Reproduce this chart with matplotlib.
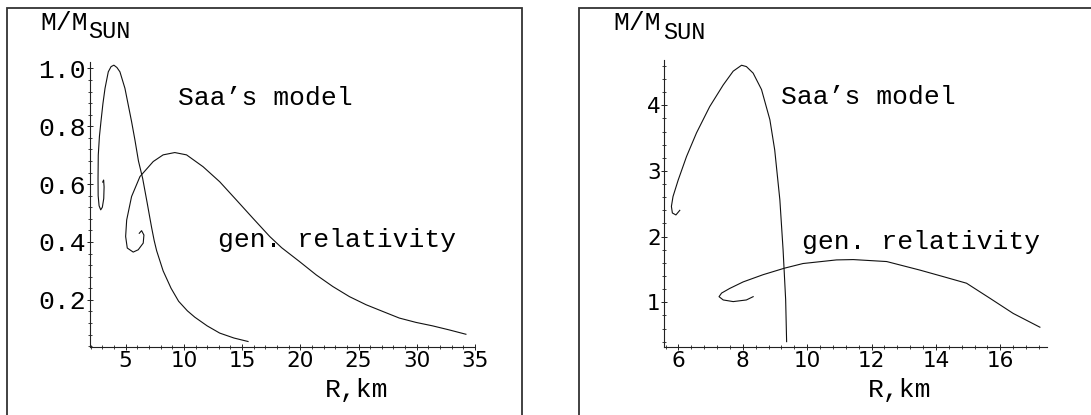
import matplotlib
matplotlib.use("Agg")
import matplotlib.pyplot as plt
from matplotlib.patches import Rectangle
from matplotlib.ticker import MultipleLocator

# left panel: M/Msun vs R (km), curves
saa_left_r = [3.03, 3.11, 3.15, 3.12, 3.0, 2.86, 2.72, 2.64, 2.63, 2.65, 2.75, 2.88, 3.05, 3.23,
              3.51, 3.75, 3.99, 4.25, 4.51, 4.94, 5.51, 5.80, 6.10, 6.46, 6.85, 7.05, 7.23,
              7.45, 7.66, 8.22, 8.90, 9.55, 10.30, 10.94, 12.0, 13.08, 14.3, 15.51]
saa_left_m = [0.607, 0.614, 0.59, 0.55, 0.52, 0.511, 0.525, 0.56, 0.62, 0.70, 0.765, 0.816, 0.878, 0.931,
              0.988, 1.006, 1.011, 1.003, 0.988, 0.931, 0.816, 0.752, 0.68, 0.62, 0.535, 0.49, 0.45,
              0.405, 0.37, 0.30, 0.24, 0.195, 0.162, 0.140, 0.11, 0.085, 0.068, 0.056]

gr_left_r = [6.17, 6.37, 6.57, 6.51, 6.08, 5.65, 5.14, 5.0, 5.09, 5.51, 6.23, 7.37, 8.22,
             9.22, 10.23, 11.65, 13.08, 14.51, 15.93, 17.37, 18.4, 19.94, 21.37, 22.79,
             24.22, 25.65, 27.07, 28.5, 29.93, 31.36, 32.79, 34.22]
gr_left_m = [0.430, 0.439, 0.424, 0.396, 0.373, 0.365, 0.379, 0.419, 0.476, 0.557, 0.626, 0.678, 0.701,
             0.709, 0.701, 0.66, 0.608, 0.545, 0.482, 0.419, 0.380, 0.332, 0.286, 0.246,
             0.211, 0.183, 0.160, 0.137, 0.122, 0.110, 0.096, 0.081]

# right panel
saa_right_r = [6.04, 5.92, 5.81, 5.78, 5.83, 5.99, 6.25, 6.56, 6.97, 7.39, 7.70, 7.96, 8.11,
               8.32, 8.58, 8.84, 8.99, 9.15, 9.25, 9.33, 9.36]
saa_right_m = [2.40, 2.33, 2.36, 2.46, 2.61, 2.86, 3.22, 3.58, 3.98, 4.31, 4.52, 4.61, 4.59,
               4.49, 4.24, 3.78, 3.32, 2.56, 1.80, 1.04, 0.40]

gr_right_r = [8.32, 8.11, 7.70, 7.39, 7.26, 7.34, 7.59, 8.01, 8.63, 9.30, 9.87, 10.91, 11.43,
              12.47, 13.5, 14.23, 14.95, 15.68, 16.40, 17.23]
gr_right_m = [1.085, 1.035, 1.01, 1.035, 1.085, 1.14, 1.21, 1.31, 1.42, 1.52, 1.59, 1.645, 1.65,
              1.62, 1.49, 1.39, 1.29, 1.06, 0.83, 0.62]

W, H = 1091, 415
fig = plt.figure(figsize=(W / 100, H / 100), dpi=100)
mono = "Liberation Mono"


def px_axes(x0, x1, y0, y1):
    return fig.add_axes([x0 / W, 1 - y1 / H, (x1 - x0) / W, (y1 - y0) / H])


def style(ax):
    for s in ["top", "right"]:
        ax.spines[s].set_visible(False)
    for s in ["left", "bottom"]:
        ax.spines[s].set_linewidth(0.8)
        ax.spines[s].set_color("#222222")
    ax.tick_params(which="major", direction="inout", length=4, width=0.7, color="#222222")
    ax.tick_params(which="minor", direction="inout", length=2.5, width=0.6, color="#222222")
    ax.tick_params(axis="x", labelsize=15.5, pad=1)
    ax.patch.set_alpha(0)


# frames
fig.patches.append(Rectangle((7 / W, -0.05), (522 - 7) / W, 1.05 - 8 / H,
                             transform=fig.transFigure, fill=False, lw=1.3, ec="#333333"))
fig.patches.append(Rectangle((579 / W, -0.05), 0.5, 1.05 - 8 / H,
                             transform=fig.transFigure, fill=False, lw=1.3, ec="#333333"))

# left panel
ax1 = px_axes(90, 475, 61.7, 346.7)
style(ax1)
ax1.plot(saa_left_r, saa_left_m, color="#111111", lw=0.8)
ax1.plot(gr_left_r, gr_left_m, color="#111111", lw=0.8)
ax1.set_xlim(1.94, 34.9)
ax1.set_ylim(0.038, 1.023)
ax1.set_xticks([5, 10, 15, 20, 25, 30, 35])
ax1.xaxis.set_minor_locator(MultipleLocator(1))
ax1.set_yticks([0.2, 0.4, 0.6, 0.8, 1.0])
ax1.set_yticklabels(["0.2", "0.4", "0.6", "0.8", "1.0"], family=mono, fontsize=19)
ax1.yaxis.set_minor_locator(MultipleLocator(0.04))
ax1.tick_params(axis="y", pad=1.2)

# right panel
ax2 = px_axes(664, 1047.3, 60, 346.7)
style(ax2)
ax2.plot(saa_right_r, saa_right_m, color="#111111", lw=0.8)
ax2.plot(gr_right_r, gr_right_m, color="#111111", lw=0.8)
ax2.set_xlim(5.55, 17.46)
ax2.set_ylim(0.323, 4.69)
ax2.set_xticks([6, 8, 10, 12, 14, 16])
ax2.xaxis.set_minor_locator(MultipleLocator(0.4))
ax2.set_yticks([1, 2, 3, 4])
ax2.yaxis.set_minor_locator(MultipleLocator(0.2))
ax2.tick_params(axis="y", labelsize=15.5, pad=0.3)


def label(x, y, s, size=19):
    fig.text(x / W, 1 - y / H, s, family=mono, fontsize=size, va="baseline", ha="left")


# left texts
label(40, 30, "M/M")
label(88.3, 37.5, "SUN", 17)
label(178, 105, "Saa\u2019s model")
label(218.3, 247.3, "gen. relativity")
label(325, 397.3, "R,km")

# right texts
label(613, 30, "M/M")
label(663.3, 39.3, "SUN", 17)
label(780.7, 104.3, "Saa\u2019s model")
label(801.7, 249.3, "gen. relativity")
label(868, 397.3, "R,km")

fig.savefig("out.png", dpi=100)
